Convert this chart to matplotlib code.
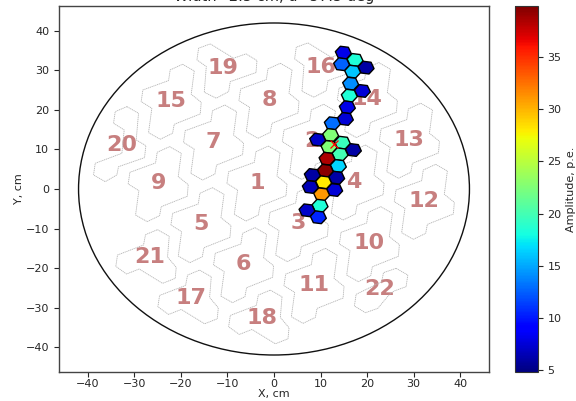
import numpy as np
import matplotlib
matplotlib.use("Agg")
import matplotlib.pyplot as plt
from matplotlib.collections import PolyCollection
from matplotlib.patches import Circle, Polygon

TITLE = "Width=2.5 cm, d=57.5 deg"

hex_x = [14.90, 17.42, 14.54, 19.78, 16.90, 16.47, 18.99, 16.19, 15.76, 15.33,
         12.54, 12.17, 9.38, 14.69, 11.83, 17.05, 14.19, 11.40, 13.83, 11.03,
         8.24, 13.46, 10.67, 7.81, 13.03, 10.24, 9.89, 7.10, 9.53]
hex_y = [34.50, 32.66, 31.57, 30.71, 29.70, 26.66, 24.81, 23.62, 20.68, 17.72,
         16.63, 13.67, 12.48, 11.72, 10.63, 9.87, 8.78, 7.67, 5.82, 4.63,
         3.54, 2.86, 1.70, 0.51, -0.25, -1.34, -4.23, -5.39, -7.16]
hex_amp = [8, 18.5, 12.5, 6, 16, 14, 7.5, 18.5, 8, 7.5,
           13, 22.5, 7, 19.5, 22.5, 6, 20, 38.5, 16.5, 39.5,
           6, 6, 28, 6.5, 7.5, 31, 18.5, 7, 10.5]

module_ids = list(range(1, 23))
module_x = [-3.66, 8.24, 5.23, 17.2, -15.7, -6.54, -12.99, -1.08, -24.88, 20.49, 8.60,
            32.3, 29.1, 20.06, -22.09, 10.02, -17.78, -2.58, -10.97, -32.69, -26.82, 22.8]
module_y = [1.59, 12.15, -8.68, 1.85, -8.94, -19.06, 11.97, 22.53, 1.44, -13.75, -24.30,
            -3.04, 12.41, 22.71, 22.28, 30.81, -27.52, -32.58, 30.56, 11.14, -17.29, -25.39]
module_shape = ["A"] * 15 + ["B", "C", "C", "B", "D", "C", "E"]

shapes = {
    "A": [(2.44, 9.28), (4.95, 7.59), (4.30, 1.69), (6.45, -0.34), (6.24, -3.29), (0.65, -5.91),
          (0.29, -8.19), (-2.37, -9.70), (-4.87, -8.02), (-4.16, -1.86), (-6.45, -0.17),
          (-6.09, 2.78), (-0.57, 5.15), (-0.22, 7.85)],
    "B": [(-2.72, 6.16), (2.29, 2.53), (4.95, 3.63), (7.31, 1.94), (7.10, -1.10), (1.58, -3.38),
          (1.22, -5.91), (-1.43, -7.59), (-4.01, -6.08), (-3.58, 0.42), (-5.59, 2.11), (-5.23, 5.06)],
    "C": [(1.79, 7.00), (4.30, 5.32), (3.94, 0.08), (5.81, -2.53), (5.59, -5.32), (2.87, -6.58),
          (-2.15, -2.95), (-4.87, -4.22), (-7.17, -2.28), (-6.81, 0.59), (-1.22, 3.12), (-0.79, 5.74)],
    "D": [(1.08, 9.70), (3.58, 8.02), (3.08, 1.27), (5.16, -0.17), (4.87, -3.21), (-0.72, -5.49),
          (-1.08, -7.59), (-3.58, -9.28), (-6.09, -7.59), (-5.73, -4.64), (0, -2.11), (0.50, 3.80),
          (-1.79, 5.49), (-1.43, 8.44)],
    "E": [(3.44, 5.32), (5.95, 3.63), (5.59, 0.68), (3.01, -0.42), (2.01, -1.27), (-0.50, -4.81),
          (-3.15, -5.91), (-5.52, -4.22), (-5.16, -1.27), (0.36, 1.94), (0.72, 4.22)],
}

cross_x = [12.97]
cross_y = [11.3]

R_CIRCLE = 42.0
R_HEX = 3.0 / np.sqrt(3)
TEXT_COLOR = "#262626"

fig = plt.figure(figsize=(5.76, 4.01), dpi=100)
W, H = 576.0, 401.0
ax = fig.add_axes([59 / W, (H - 372) / H, 430 / W, 366 / H])
cax = fig.add_axes([515.3 / W, (H - 372) / H, 22.4 / W, 366 / H])

for mid, mx, my in zip(module_ids, module_x, module_y):
    ax.text(mx, my, str(mid), color="#c77f7f", fontsize=16, fontweight="bold",
            ha="center", va="center", zorder=1)

for mx, my, key in zip(module_x, module_y, module_shape):
    pts = np.array(shapes[key]) + (mx, my)
    ax.add_patch(Polygon(pts, closed=True, fill=False, edgecolor="#b4b4b4",
                         linewidth=0.6, linestyle=(0, (1.5, 0.8)), zorder=2))

angles = np.deg2rad(-8.3 + 60 * np.arange(6))
polys = [np.column_stack([cx + R_HEX * np.cos(angles), cy + R_HEX * np.sin(angles)])
         for cx, cy in zip(hex_x, hex_y)]
pc = PolyCollection(polys, array=np.array(hex_amp), cmap="jet", edgecolors="black",
                    linewidths=1.0, zorder=3)
pc.set_clim(4.8, 39.9)
ax.add_collection(pc)

ax.add_patch(Circle((0, 0), R_CIRCLE, fill=False, edgecolor="#111111", linewidth=1.0, zorder=2))
ax.plot(cross_x, cross_y, marker="x", color="red", markersize=5.5, markeredgewidth=0.9,
        linestyle="none", zorder=5)

ax.set_xlim(-46.2, 46.2)
ax.set_ylim(-46.3, 46.3)
ax.set_xticks(np.arange(-40, 41, 10))
ax.set_yticks(np.arange(-40, 41, 10))
ax.tick_params(labelsize=8, colors=TEXT_COLOR, length=3.5, width=0.8)
ax.tick_params(axis="x", pad=1.5)
ax.set_xlabel("X, cm", fontsize=8, color=TEXT_COLOR, labelpad=0)
ax.set_ylabel("Y, cm", fontsize=8, color=TEXT_COLOR, labelpad=1)
ax.set_title(TITLE, fontsize=10.5, pad=3.4, color=TEXT_COLOR)
for sp in ax.spines.values():
    sp.set_color("#444444")
    sp.set_linewidth(1.0)

cb = fig.colorbar(pc, cax=cax)
cb.set_ticks([5, 10, 15, 20, 25, 30, 35])
cb.ax.tick_params(labelsize=8, colors=TEXT_COLOR, length=3.5, width=0.8)
cb.set_label("Amplitude, p.e.", fontsize=8, color=TEXT_COLOR, labelpad=3)
cb.outline.set_edgecolor("#333333")

fig.savefig("out.png", dpi=100)
